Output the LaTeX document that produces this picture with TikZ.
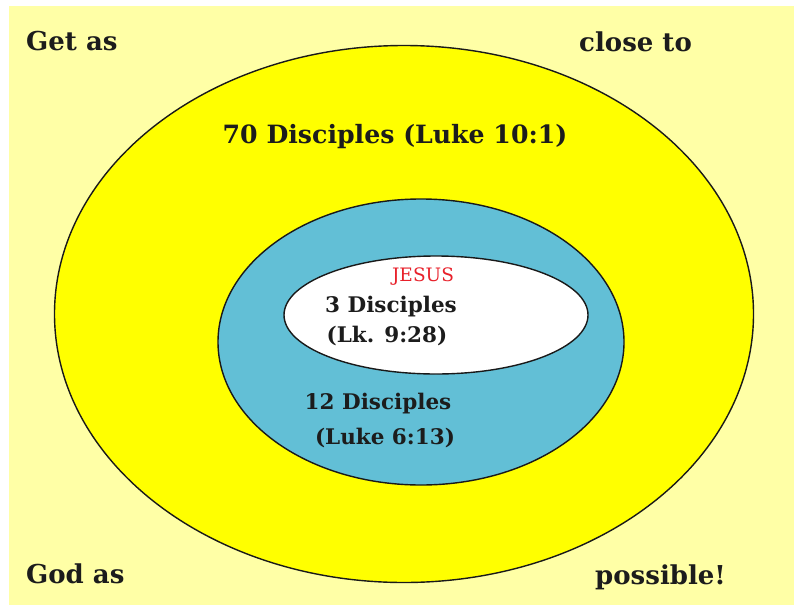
\documentclass[tikz,border=0pt]{standalone}
\usepackage{fontspec}
\setmainfont{DejaVu Serif}
\usepackage{tikz}
\usetikzlibrary{shapes.geometric, positioning}
\definecolor{paleYellow}{HTML}{FFFFA6}
\definecolor{brightYellow}{HTML}{FFFF00}
\definecolor{tealBlue}{HTML}{62BFD6}
\definecolor{inkGray}{HTML}{1C1C1C}
\definecolor{jesusRed}{HTML}{E8202A}

\begin{document}
\begin{tikzpicture}[
    x=1pt, y=-1pt,
    ring/.style={ellipse, draw=black!90, line width=1.4pt, inner sep=0pt},
    corner/.style={anchor=base west, inner sep=0pt, text=inkGray, font=\fontsize{26}{31}\selectfont\bfseries},
    label/.style={anchor=base, inner sep=0pt, text=inkGray, font=\fontsize{21.5}{26}\selectfont\bfseries}
]

% Page
\fill[white] (0,0) rectangle (794,605);
\useasboundingbox (0,0) rectangle (794,605);
\fill[paleYellow] (9,6) rectangle (794,605);

% Rings
\node[ring, fill=brightYellow, minimum width=699pt, minimum height=537pt] (seventy) at (404,314) {};
\node[ring, fill=tealBlue, minimum width=406pt, minimum height=286pt] (twelve) at (421,342) {};
\node[ring, fill=white, minimum width=304pt, minimum height=118pt] (three) at (436,315) {};

% Corner words
\node[corner] (getas) at (26,50) {Get as};
\node[corner] (closeto) at (579,51) {close to};
\node[corner] (godas) at (26,583) {God as};
\node[corner] (possible) at (595,584) {possible!};

% Ring labels
\node[label, font=\fontsize{25.2}{30}\selectfont\bfseries] (seventytxt) at (395,143) {70 Disciples (Luke 10:1)};
\node[label, text=jesusRed, font=\fontsize{18.5}{22}\selectfont] (jesus) at (423,281) {JESUS};
\node[label] (threetxt) at (391,312) {3 Disciples};
\node[label] (threeref) at (387,342) {(Lk. 9:28)};
\node[label] (twelvetxt) at (378,409) {12 Disciples};
\node[label] (twelveref) at (385,444) {(Luke 6:13)};

\end{tikzpicture}
\end{document}
